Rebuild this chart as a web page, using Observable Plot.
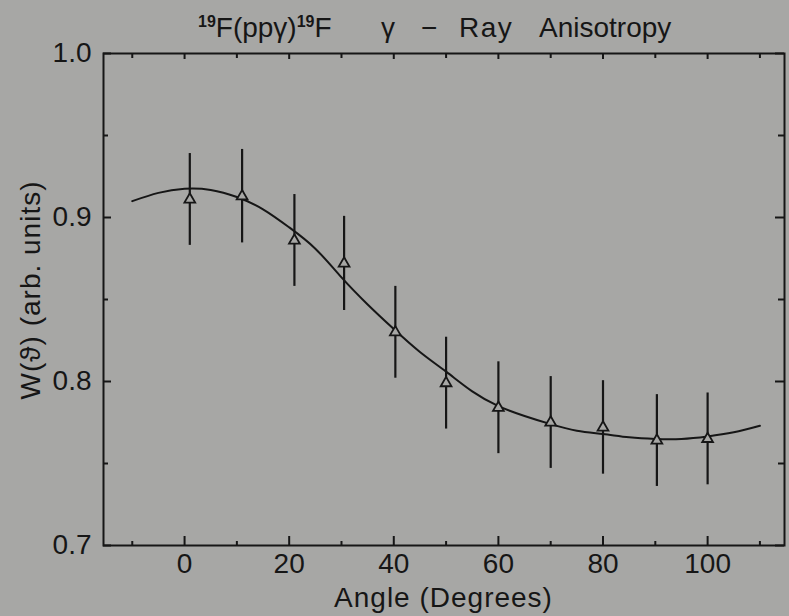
<!DOCTYPE html>
<html><head><meta charset="utf-8">
<script src="https://cdn.jsdelivr.net/npm/d3@7"></script>
<script src="https://cdn.jsdelivr.net/npm/@observablehq/plot@0.6"></script>
<style>
html,body{margin:0;padding:0;background:#a7a7a5;}
#chart svg{display:block;}
</style></head><body><div id="chart"></div>
<script>
// Measured data points (angle in degrees, W(theta), error)
const angles = [1, 11, 21, 30.5, 40.3, 50, 60, 70, 80, 90.3, 100];
const wValues = [0.911, 0.913, 0.886, 0.872, 0.830, 0.799, 0.784, 0.775, 0.772, 0.764, 0.765];
const wErrors = [0.028, 0.0285, 0.028, 0.0287, 0.028, 0.028, 0.028, 0.028, 0.0285, 0.028, 0.028];
// Fitted curve
const fitAngles = [-10, -5, 0, 5, 10, 15, 20, 25, 30, 35, 40, 45, 50, 55, 60, 65, 70, 75, 80, 85, 90, 95, 100, 105, 110];
const fitValues = [0.910, 0.915, 0.9175, 0.9168, 0.9125, 0.905, 0.894, 0.881, 0.8635, 0.847, 0.832, 0.818, 0.806, 0.794, 0.785, 0.779, 0.774, 0.770, 0.768, 0.766, 0.765, 0.765, 0.7665, 0.769, 0.773];
// Axis ticks
const xMajorTicks = [0, 20, 40, 60, 80, 100];
const xMinorTicks = [-10, 10, 30, 50, 70, 90, 110];
const yMajorTicks = [0.7, 0.8, 0.9, 1.0];
const yMinorTicks = [0.75, 0.85, 0.95];
const titleWords = ["Ray", "Anisotropy"];
const xLabel = "Angle (Degrees)";
const yLabel = "W(\u03D1) (arb. units)";

const ink = "#161616";
const bg = "#a7a7a5";
const W = 789, H = 616, mL = 103, mR = 5, mT = 53, mB = 71;
const innerH = H - mT - mB, innerW = W - mL - mR;
const font = "Liberation Sans, Arial, sans-serif";

const points = angles.map((a, i) => ({angle: a, w: wValues[i], lo: wValues[i] - wErrors[i], hi: wValues[i] + wErrors[i]}));
const fit = fitAngles.map((a, i) => ({angle: a, w: fitValues[i]}));

const svg = Plot.plot({
  width: W, height: H,
  marginLeft: mL, marginRight: mR, marginTop: mT, marginBottom: mB,
  style: {background: bg, fontFamily: font, color: ink},
  x: {domain: [-15.5, 114.7]},
  y: {domain: [0.7, 1.0]},
  marks: [
    Plot.frame({stroke: ink, strokeWidth: 2}),
    Plot.tickX(xMajorTicks, {x: d => d, insetTop: innerH - 9, stroke: ink, strokeWidth: 2}),
    Plot.tickX(xMinorTicks, {x: d => d, insetTop: innerH - 4, stroke: ink, strokeWidth: 2}),
    Plot.tickX(xMajorTicks, {x: d => d, insetBottom: innerH - 6, stroke: ink, strokeWidth: 2}),
    Plot.tickX(xMinorTicks, {x: d => d, insetBottom: innerH - 5, stroke: ink, strokeWidth: 2}),
    Plot.tickY(yMajorTicks, {y: d => d, insetRight: innerW - 8, stroke: ink, strokeWidth: 2}),
    Plot.tickY(yMinorTicks, {y: d => d, insetRight: innerW - 5, stroke: ink, strokeWidth: 2}),
    Plot.tickY(yMajorTicks, {y: d => d, insetLeft: innerW - 9, stroke: ink, strokeWidth: 2}),
    Plot.tickY(yMinorTicks, {y: d => d, insetLeft: innerW - 6, stroke: ink, strokeWidth: 2}),
    Plot.axisX(xMajorTicks, {tickSize: 0, tickPadding: 8, fontSize: 28, label: null, tickFormat: d => String(d), fill: ink}),
    Plot.axisY(yMajorTicks, {tickSize: 0, tickPadding: 12, fontSize: 28, label: null, tickFormat: d => d.toFixed(1), fill: ink}),
    Plot.line(fit, {x: "angle", y: "w", curve: "natural", stroke: ink, strokeWidth: 2}),
    Plot.ruleX(points, {x: "angle", y1: "lo", y2: "hi", stroke: ink, strokeWidth: 2.2}),
    Plot.dot(points, {x: "angle", y: "w", symbol: "triangle", r: 4, stroke: ink, fill: bg, strokeWidth: 1.8})
  ]
});

const s = d3.select(svg);
// Title
const t = s.append("text").attr("y", 37).attr("font-size", 28).attr("fill", ink)
  .attr("font-family", font).attr("text-anchor", "start");
t.append("tspan").attr("x", 198).attr("font-size", 16).attr("font-weight", "bold").attr("dy", -10).text("19");
t.append("tspan").attr("dy", 10).text("F(pp\u03B3)");
t.append("tspan").attr("font-size", 16).attr("font-weight", "bold").attr("dy", -10).text("19");
t.append("tspan").attr("dy", 10).text("F");
t.append("tspan").attr("x", 381).text("\u03B3");
t.append("tspan").attr("x", 421).text("\u2212");
t.append("tspan").attr("x", 459).attr("letter-spacing", 1.5).text(titleWords[0]);
t.append("tspan").attr("x", 539).attr("letter-spacing", 0).text(titleWords[1]);
// X label
s.append("text").attr("x", mL + innerW / 2).attr("y", 607).attr("text-anchor", "middle")
  .attr("font-size", 28).attr("letter-spacing", 1).attr("fill", ink).attr("font-family", font).text(xLabel);
// Y label
s.append("text").attr("transform", "translate(40,290) rotate(-90)").attr("text-anchor", "middle")
  .attr("font-size", 28).attr("letter-spacing", 1).attr("fill", ink).attr("font-family", font).text(yLabel);

document.getElementById("chart").appendChild(svg);
</script></body></html>
